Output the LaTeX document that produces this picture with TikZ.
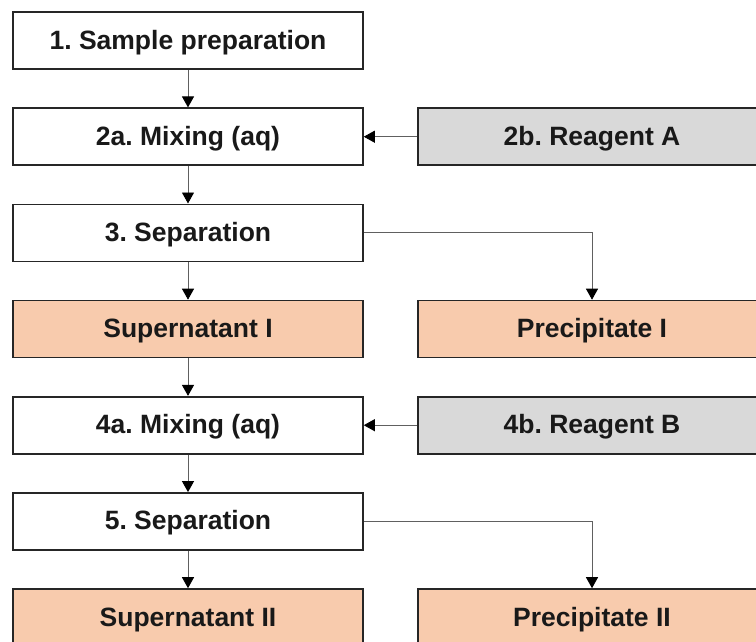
\documentclass[tikz,border=0pt]{standalone}
\usepackage{fontspec}
\setmainfont{Liberation Sans}
\frenchspacing
\usetikzlibrary{arrows.meta}
\definecolor{boxgray}{HTML}{D9D9D9}
\definecolor{boxorange}{HTML}{F8CBAD}
\definecolor{linegray}{HTML}{606060}
\tikzset{
  box/.style={draw=black!85, line width=1.6pt, rectangle, minimum height=57pt,
    inner sep=0pt, text height=19pt, text depth=2pt,
    font=\fontsize{26.5}{30}\selectfont\bfseries, text=black!90},
  leftbox/.style={box, minimum width=350pt},
  rightbox/.style={box, minimum width=348pt},
  conn/.style={draw=linegray, line width=0.9pt,
    -{Triangle[width=12pt,length=11pt,color=black,fill=black]}}
}
\begin{document}
\begin{tikzpicture}[x=1pt,y=-1pt]
\useasboundingbox (0,0) rectangle (756,641);
\clip (0,0) rectangle (756,641);
\node[leftbox, fill=white] (s1) at (188,40.5) {1. Sample preparation};
\node[leftbox, fill=white] (s2a) at (188,136.7) {2a. Mixing (aq)};
\node[rightbox, fill=boxgray] (s2b) at (592,136.7) {2b. Reagent A};
\node[leftbox, fill=white] (s3) at (188,232.8) {3. Separation};
\node[leftbox, fill=boxorange] (sup1) at (188,329) {Supernatant I};
\node[rightbox, fill=boxorange] (pre1) at (592,329) {Precipitate I};
\node[leftbox, fill=white] (s4a) at (188,425.2) {4a. Mixing (aq)};
\node[rightbox, fill=boxgray] (s4b) at (592,425.2) {4b. Reagent B};
\node[leftbox, fill=white] (s5) at (188,521.4) {5. Separation};
\node[leftbox, fill=boxorange] (sup2) at (188,617.5) {Supernatant II};
\node[rightbox, fill=boxorange] (pre2) at (592,617.5) {Precipitate II};

\draw[conn] (s1) -- (s2a);
\draw[conn] (s2b) -- (s2a);
\draw[conn] (s2a) -- (s3);
\draw[conn] (s3) -- (sup1);
\draw[conn] (s3.east) -| (pre1.north);
\draw[conn] (sup1) -- (s4a);
\draw[conn] (s4b) -- (s4a);
\draw[conn] (s4a) -- (s5);
\draw[conn] (s5) -- (sup2);
\draw[conn] (s5.east) -| (pre2.north);
\end{tikzpicture}
\end{document}
